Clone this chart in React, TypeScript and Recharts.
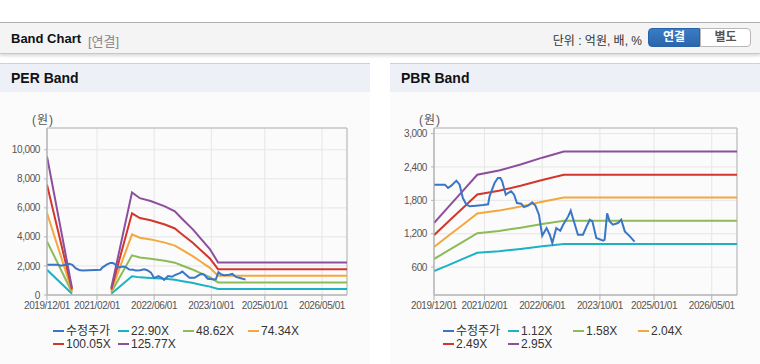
import React from 'react';
import { LineChart, Line, XAxis, YAxis, CartesianGrid, ReferenceArea } from 'recharts';

// x values are month offsets from 2019/12/01
const tickMonths = [0, 14, 30, 46, 61, 77];
const tickLabels = ['2019/12/01', '2021/02/01', '2022/06/01', '2023/10/01', '2025/01/01', '2026/05/01'];
const lastMonth = 84;

const priceMonths = [0, 3, 3.9, 4.8, 6.2, 7.1, 8, 9, 9.9, 11.7, 13.6, 15, 15.4, 16.8, 17.7, 18.4, 18.9, 19.9, 20.5, 21.4, 22.2, 23, 24.2, 24.9, 26.1, 27.2, 28.1, 29.1, 30, 31.2, 32.1, 32.8, 33.9, 35, 35.8, 37.2, 37.9, 38.5, 39.9, 41.3, 42.3, 43.2, 43.9, 45, 46.9, 47.3, 48, 48.7, 49.6, 51, 51.9, 52.9, 54.3, 55.6];
const priceValues = [2082, 2082, 2022, 2064, 2154, 2082, 1842, 1723, 1693, 1705, 1717, 1729, 1872, 2112, 2202, 2202, 2142, 1902, 1932, 1962, 1902, 1753, 1741, 1681, 1705, 1765, 1705, 1543, 1165, 1303, 1183, 1034, 1303, 1255, 1363, 1512, 1614, 1483, 1183, 1183, 1332, 1452, 1423, 1124, 1075, 1094, 1566, 1423, 1363, 1393, 1452, 1243, 1153, 1060];

// PER bands (null = no band, EPS below zero)
const perMonths = [0, 7, 12, 18, 23.8, 26, 29, 33, 35.8, 37.6, 40.9, 43, 45.6, 47.9, 84];
const per2290 = [1738, 87, null, 87, 1287, 1214, 1179, 1111, 1049, 966, 820, 710, 577, 408, 408];
const per4862 = [3690, 185, null, 185, 2732, 2577, 2504, 2358, 2227, 2052, 1741, 1507, 1225, 865, 865];
const per7434 = [5642, 282, null, 282, 4178, 3940, 3829, 3605, 3405, 3137, 2661, 2305, 1873, 1323, 1323];
const per10005 = [7594, 380, null, 380, 5623, 5303, 5153, 4852, 4582, 4222, 3582, 3102, 2521, 1781, 1781];
const per12577 = [9546, 478, null, 478, 7068, 6666, 6477, 6100, 5760, 5307, 4503, 3899, 3169, 2239, 2239];

// PBR bands
const pbrMonths = [0, 4, 8, 12, 18, 24, 30, 36, 84];
const pbr112 = [529, 638, 748, 858, 887, 927, 974, 1017, 1017];
const pbr158 = [746, 901, 1055, 1210, 1251, 1308, 1375, 1435, 1435];
const pbr204 = [963, 1163, 1363, 1563, 1616, 1689, 1775, 1852, 1852];
const pbr249 = [1175, 1419, 1663, 1907, 1972, 2062, 2166, 2261, 2261];
const pbr295 = [1392, 1682, 1971, 2260, 2336, 2443, 2567, 2679, 2679];

const perTicks = [0, 2000, 4000, 6000, 8000, 10000];
const pbrTicks = [600, 1200, 1800, 2400, 3000];

const colors = ['#3a76c6', '#1cb1c4', '#8cbb58', '#f2a83c', '#d2362c', '#8c4f9e'];

const zip = (ms: number[], vs: (number | null)[]) => ms.map((m, i) => ({ m, v: vs[i] }));
const priceData = zip(priceMonths, priceValues);

const perSeries = [
  { name: '수정주가', data: priceData },
  { name: '22.90X', data: zip(perMonths, per2290) },
  { name: '48.62X', data: zip(perMonths, per4862) },
  { name: '74.34X', data: zip(perMonths, per7434) },
  { name: '100.05X', data: zip(perMonths, per10005) },
  { name: '125.77X', data: zip(perMonths, per12577) },
];
const pbrSeries = [
  { name: '수정주가', data: priceData },
  { name: '1.12X', data: zip(pbrMonths, pbr112) },
  { name: '1.58X', data: zip(pbrMonths, pbr158) },
  { name: '2.04X', data: zip(pbrMonths, pbr204) },
  { name: '2.49X', data: zip(pbrMonths, pbr249) },
  { name: '2.95X', data: zip(pbrMonths, pbr295) },
];

const tickFont = "'Liberation Sans', Arial, sans-serif";
const uiFont = "'Liberation Sans', Arial, 'Noto Sans CJK KR', sans-serif";
const tickStyle = { fontSize: 10, fill: '#555', fontFamily: tickFont, letterSpacing: -0.4 };

function BandPanel({ left, title, series, yDomain, yTicks, yWidth }: any) {
  return (
    <div style={{ position: 'absolute', left, top: 63, width: 370, height: 300, background: '#fbfbfb', borderTop: '1px solid #d0d0d0', borderBottom: '1px solid #dcdcdc' }}>
      <div style={{ height: 28, background: '#edf1f7', paddingLeft: 11, lineHeight: '29px', fontSize: 14, fontWeight: 'bold', color: '#111' }}>
        {title}
      </div>
      <div style={{ position: 'absolute', left: yWidth - 15, top: 46, fontSize: 12, color: '#555', letterSpacing: 1 }}>(원)</div>
      <div style={{ position: 'absolute', left: 0, top: 36 }}>
        <LineChart width={370} height={220} margin={{ top: 28, right: 23, left: 0, bottom: 5 }}>
          <CartesianGrid stroke="#e6e6e6" />
          <XAxis
            dataKey="m"
            type="number"
            domain={[0, lastMonth]}
            ticks={tickMonths}
            interval={0}
            tickFormatter={(m) => tickLabels[tickMonths.indexOf(m)]}
            height={20}
            tickSize={5}
            stroke="#b5b5b5"
            tick={tickStyle}
            allowDataOverflow
          />
          <YAxis
            type="number"
            domain={yDomain}
            ticks={yTicks}
            interval={0}
            width={yWidth}
            tickSize={3}
            tickMargin={4}
            stroke="#b5b5b5"
            tickFormatter={(v) => v.toLocaleString('en-US')}
            tick={tickStyle}
            allowDataOverflow
          />
          <ReferenceArea x1={0} x2={lastMonth} y1={yDomain[0]} y2={yDomain[1]} fill="none" stroke="#b5b5b5" strokeOpacity={1} />
          {series.slice(1).map((s: any, i: number) => (
            <Line key={s.name} data={s.data} dataKey="v" name={s.name} type="linear" stroke={colors[i + 1]} strokeWidth={2} dot={false} connectNulls={false} isAnimationActive={false} />
          ))}
          <Line data={series[0].data} dataKey="v" name={series[0].name} type="linear" stroke={colors[0]} strokeWidth={2} dot={false} isAnimationActive={false} />
        </LineChart>
      </div>
      <div style={{ position: 'absolute', left: 53, top: 260, width: 270, display: 'flex', flexWrap: 'wrap' }}>
        {series.map((s: any, i: number) => (
          <div key={s.name} style={{ width: 65, height: 13.4, lineHeight: '13px', display: 'flex', alignItems: 'center', fontSize: 12, color: '#333', fontFamily: uiFont, whiteSpace: 'nowrap' }}>
            <span style={{ display: 'inline-block', width: 11, height: 2, background: colors[i], marginRight: 2 }} />
            <span style={{ lineHeight: '12px' }}>{s.name}</span>
          </div>
        ))}
      </div>
    </div>
  );
}

export default function App() {
  return (
    <div style={{ position: 'absolute', left: 0, top: 0, width: 760, height: 364, background: '#fff', overflow: 'hidden', fontFamily: uiFont }}>
      <div style={{ position: 'absolute', left: 0, top: 22, width: 760, height: 30, background: '#f4f4f4', borderTop: '1px solid #b0b0b0', borderBottom: '1px solid #c8c8c8', boxShadow: '0 2px 3px rgba(0,0,0,0.15)' }}>
        <span style={{ position: 'absolute', left: 11, top: 8, fontSize: 13, fontWeight: 'bold', color: '#111' }}>Band Chart</span>
        <span style={{ position: 'absolute', left: 88, top: 8, fontSize: 13, color: '#888' }}>[연결]</span>
        <span style={{ position: 'absolute', right: 118, top: 8, fontSize: 12, color: '#333' }}>단위 : 억원, 배, %</span>
        <div style={{ position: 'absolute', left: 648, top: 5, width: 52, height: 19, background: 'linear-gradient(#3a7cc4, #2a66ad)', border: '1px solid #2a62a6', borderRadius: '4px 0 0 4px', color: '#fff', fontSize: 12, fontWeight: 'bold', textAlign: 'center', lineHeight: '17px', boxSizing: 'border-box' }}>연결</div>
        <div style={{ position: 'absolute', left: 700, top: 5, width: 51, height: 19, background: '#fff', border: '1px solid #b8b8b8', borderRadius: '0 4px 4px 0', color: '#555', fontSize: 12, fontWeight: 'bold', textAlign: 'center', lineHeight: '17px', boxSizing: 'border-box' }}>별도</div>
      </div>
      <BandPanel left={0} title="PER Band" series={perSeries} yDomain={[0, 11500]} yTicks={perTicks} yWidth={47} />
      <BandPanel left={390} title="PBR Band" series={pbrSeries} yDomain={[100, 3100]} yTicks={pbrTicks} yWidth={44} />
    </div>
  );
}
